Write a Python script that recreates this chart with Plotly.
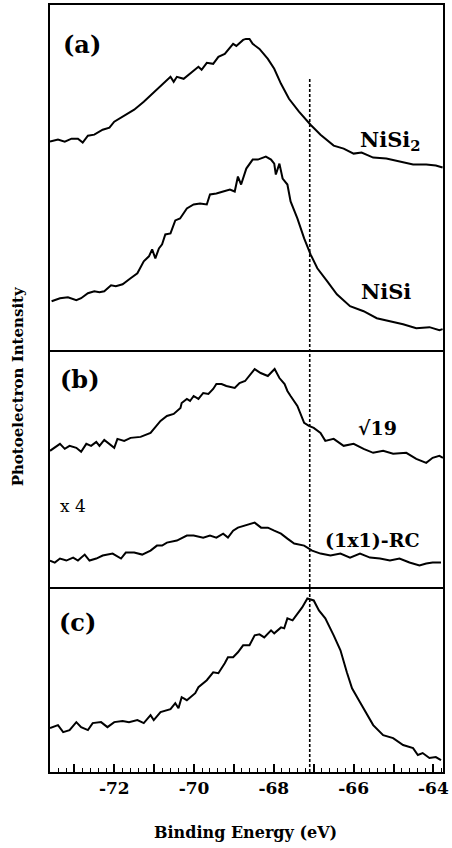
import plotly.graph_objects as go

# ---------------- data (binding energy in eV, intensity in arbitrary units) ----------------
nisi2_e = [-73.61, -73.41, -73.24, -73.07, -72.91, -72.79, -72.66, -72.50, -72.29, -72.12,
           -72.00, -71.75, -71.50, -71.26, -71.01, -70.80, -70.59, -70.51, -70.43, -70.26,
           -70.10, -69.89, -69.81, -69.68, -69.52, -69.39, -69.23, -69.02, -68.94, -68.77,
           -68.70, -68.61, -68.53, -68.36, -68.15, -67.99, -67.82, -67.62, -67.37, -67.08,
           -66.83, -66.50, -66.25, -66.00, -65.80, -65.51, -65.18, -64.85, -64.51, -64.18,
           -63.94, -63.77]
nisi2_i = [209, 211, 209, 212, 212, 208, 215, 216, 221, 223,
           229, 235, 241, 249, 258, 266, 274, 269, 274, 272,
           277, 284, 281, 288, 287, 294, 297, 307, 305, 311,
           312, 312, 307, 302, 292, 282, 267, 252, 239, 226,
           216, 205, 202, 197, 198, 193, 192, 189, 186, 186,
           185, 183]

nisi_e = [-73.57, -73.36, -73.16, -72.95, -72.83, -72.66, -72.50, -72.37, -72.25, -72.08,
          -71.96, -71.79, -71.59, -71.42, -71.26, -71.13, -71.05, -70.97, -70.88, -70.80,
          -70.72, -70.59, -70.47, -70.35, -70.18, -70.01, -69.85, -69.68, -69.60, -69.44,
          -69.27, -69.10, -68.98, -68.90, -68.82, -68.69, -68.53, -68.40, -68.20, -68.07,
          -67.99, -67.95, -67.86, -67.78, -67.66, -67.58, -67.41, -67.24, -67.08, -66.91,
          -66.66, -66.42, -66.09, -65.75, -65.42, -65.09, -64.76, -64.43, -64.10, -63.85,
          -63.77]
nisi_i = [49, 52, 53, 50, 52, 57, 59, 58, 59, 65,
          64, 66, 72, 77, 89, 94, 101, 92, 102, 106,
          116, 117, 130, 132, 142, 146, 147, 146, 156, 157,
          159, 161, 159, 174, 166, 182, 191, 191, 194, 191,
          187, 176, 187, 172, 166, 149, 132, 112, 96, 82,
          69, 56, 44, 39, 32, 29, 26, 22, 23, 20,
          21]

r19_e = [-73.61, -73.49, -73.36, -73.24, -73.12, -72.95, -72.83, -72.70, -72.58, -72.45,
         -72.37, -72.25, -72.12, -72.00, -71.92, -71.75, -71.59, -71.34, -71.09, -70.93,
         -70.84, -70.68, -70.51, -70.34, -70.31, -70.18, -70.10, -70.01, -69.89, -69.77,
         -69.64, -69.52, -69.44, -69.31, -69.19, -68.98, -68.86, -68.72, -68.60, -68.48,
         -68.33, -68.15, -67.98, -67.86, -67.73, -67.66, -67.58, -67.41, -67.24, -67.12,
         -67.00, -66.83, -66.71, -66.50, -66.25, -66.00, -65.75, -65.51, -65.26, -65.01,
         -64.68, -64.43, -64.18, -64.02, -63.85, -63.76]
r19_i = [137, 140, 144, 139, 142, 140, 136, 144, 142, 146,
         142, 148, 144, 140, 149, 147, 150, 151, 155, 162,
         167, 172, 174, 180, 185, 189, 187, 192, 189, 195,
         194, 199, 204, 204, 202, 200, 205, 207, 213, 219,
         215, 212, 219, 210, 204, 197, 192, 182, 165, 162,
         160, 155, 147, 149, 142, 144, 139, 135, 137, 134,
         135, 129, 125, 130, 132, 130]

rc_e = [-73.61, -73.49, -73.36, -73.20, -73.03, -72.91, -72.74, -72.62, -72.45, -72.29,
        -72.04, -71.83, -71.71, -71.50, -71.30, -71.09, -70.93, -70.80, -70.68, -70.43,
        -70.18, -70.01, -69.77, -69.60, -69.44, -69.27, -69.15, -69.02, -68.90, -68.73,
        -68.60, -68.48, -68.32, -68.15, -67.99, -67.82, -67.66, -67.49, -67.24, -67.04,
        -66.83, -66.58, -66.33, -66.09, -65.84, -65.59, -65.34, -65.09, -64.85, -64.60,
        -64.35, -64.18, -64.02, -63.81]
rc_i = [27, 25, 29, 27, 30, 27, 33, 27, 29, 32,
        34, 29, 35, 35, 33, 37, 42, 42, 45, 47,
        52, 52, 50, 52, 50, 54, 50, 57, 60, 62,
        64, 65, 60, 60, 57, 54, 49, 44, 42, 37,
        34, 32, 34, 30, 34, 30, 29, 27, 29, 25,
        22, 24, 25, 25]

c_e = [-73.61, -73.41, -73.28, -73.12, -72.95, -72.83, -72.66, -72.54, -72.33, -72.17,
       -72.00, -71.79, -71.63, -71.42, -71.26, -71.09, -71.01, -70.84, -70.59, -70.47,
       -70.39, -70.31, -70.18, -69.97, -69.89, -69.68, -69.52, -69.39, -69.23, -69.15,
       -69.02, -68.90, -68.77, -68.61, -68.48, -68.36, -68.24, -68.07, -67.99, -67.82,
       -67.74, -67.66, -67.53, -67.41, -67.29, -67.16, -67.00, -66.87, -66.71, -66.50,
       -66.33, -66.17, -66.04, -65.84, -65.63, -65.51, -65.26, -65.01, -64.76, -64.51,
       -64.39, -64.27, -64.10, -63.94, -63.81]
c_i = [44, 47, 40, 42, 50, 45, 42, 49, 50, 45,
       50, 51, 50, 52, 49, 57, 52, 60, 63, 69,
       64, 75, 72, 79, 85, 92, 100, 99, 109, 115,
       115, 120, 127, 127, 137, 138, 135, 142, 139, 145,
       144, 154, 152, 159, 165, 174, 172, 162, 154, 137,
       122, 100, 84, 70, 55, 47, 37, 34, 27, 24,
       17, 19, 14, 15, 12]

x_range = [-73.61, -63.76]
tick_vals = [-73, -72, -71, -70, -69, -68, -67, -66, -65, -64]
tick_text = [" ", "-72", " ", "-70", " ", "-68", " ", "-66", " ", "-64"]
reference_energy = -67.1

# ---------------- figure ----------------
SERIF = "DejaVu Serif"
line = dict(color="black", width=2)
fig = go.Figure()
fig.add_trace(go.Scatter(x=nisi2_e, y=nisi2_i, mode="lines", line=line, xaxis="x3", yaxis="y3"))
fig.add_trace(go.Scatter(x=nisi_e, y=nisi_i, mode="lines", line=line, xaxis="x3", yaxis="y3"))
fig.add_trace(go.Scatter(x=r19_e, y=r19_i, mode="lines", line=line, xaxis="x2", yaxis="y2"))
fig.add_trace(go.Scatter(x=rc_e, y=rc_i, mode="lines", line=line, xaxis="x2", yaxis="y2"))
fig.add_trace(go.Scatter(x=c_e, y=c_i, mode="lines", line=line, xaxis="x", yaxis="y"))

H_PLOT = 769.0
dom_c = [0, 185 / H_PLOT]
dom_b = [185 / H_PLOT, 423 / H_PLOT]
dom_a = [423 / H_PLOT, 1]

LW = 2
box = dict(showline=True, linecolor="black", linewidth=LW, showgrid=False, zeroline=False)
hidden_y = dict(box, mirror=True, showticklabels=False, ticks="")

fig.update_layout(
    width=452, height=848,
    margin=dict(l=50, r=5, t=3, b=76),
    paper_bgcolor="white", plot_bgcolor="white",
    showlegend=False,
    xaxis=dict(box, mirror=False, range=x_range, anchor="y", domain=[0, 1],
               tickmode="array", tickvals=tick_vals, ticktext=tick_text,
               ticks="inside", ticklen=8, tickwidth=1.5, tickcolor="black",
               ticklabeloverflow="allow",
               tickfont=dict(family=SERIF, size=17, color="black", weight="bold"),
               minor=dict(dtick=0.2, tick0=-64, ticks="inside", ticklen=4,
                          tickwidth=1.2, tickcolor="black")),
    yaxis=dict(hidden_y, domain=dom_c, range=[0, 185], anchor="x"),
    xaxis2=dict(box, mirror=False, range=x_range, matches="x", showticklabels=False,
                ticks="", anchor="y2", domain=[0, 1]),
    yaxis2=dict(hidden_y, domain=dom_b, range=[0, 238], anchor="x2"),
    xaxis3=dict(box, mirror=True, range=x_range, matches="x", showticklabels=False,
                ticks="", anchor="y3", domain=[0, 1]),
    yaxis3=dict(hidden_y, domain=dom_a, range=[0, 346], anchor="x3"),
)

fig.add_shape(type="line", xref="x", yref="paper", x0=reference_energy, x1=reference_energy,
              y0=0, y1=(772 - 76) / H_PLOT, line=dict(color="black", width=1.6, dash="3px,2px"))


def ann(text, px, py, size, bold=True):
    fig.add_annotation(text=text, xref="paper", yref="paper",
                       x=(px - 50) / 397.0, y=(772 - py) / H_PLOT,
                       xanchor="center", yanchor="middle", showarrow=False,
                       font=dict(family=SERIF, size=size, color="black",
                                 weight="bold" if bold else "normal"))


ann("(a)", 82, 43, 24)
ann("(b)", 80, 378, 24)
ann("(c)", 78, 622, 24)
ann("NiSi<sub>2</sub>", 394, 139, 21)
ann("NiSi", 389, 290, 21)
ann("√19", 381, 427, 19)
ann("x 4", 73, 505, 17, bold=False)
ann("(1x1)-RC", 376, 539, 19)
ann("Binding Energy (eV)", 247, 833, 16)

fig.add_annotation(text="Photoelectron Intensity", xref="paper", yref="paper",
                   x=(18 - 50) / 397.0, y=(772 - 385) / H_PLOT, textangle=-90,
                   xanchor="center", yanchor="middle", showarrow=False,
                   font=dict(family=SERIF, size=15, color="black", weight="bold"))

fig.write_html("out.html")
